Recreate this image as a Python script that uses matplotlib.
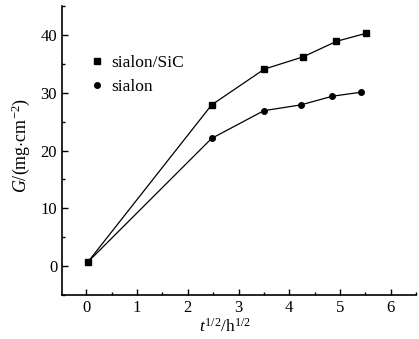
import matplotlib
matplotlib.use('Agg')
import matplotlib.pyplot as plt
from matplotlib.ticker import MultipleLocator

plt.rcParams['font.family'] = 'Liberation Serif'
plt.rcParams['mathtext.fontset'] = 'custom'
plt.rcParams['mathtext.rm'] = 'Liberation Serif'
plt.rcParams['mathtext.it'] = 'Liberation Serif:italic'

# sialon/SiC
x_sic = [0.03, 2.47, 3.51, 4.27, 4.93, 5.52]
y_sic = [0.7, 27.9, 34.1, 36.2, 38.9, 40.3]
# sialon
x_sia = [0.03, 2.47, 3.50, 4.23, 4.85, 5.42]
y_sia = [0.7, 22.1, 26.9, 27.9, 29.4, 30.1]

fig = plt.figure(figsize=(4.19, 3.39), dpi=100)
ax = fig.add_axes([0.148, 0.13, 0.845, 0.852])

ax.plot(x_sic, y_sic, '-s', color='black', lw=0.9, ms=4, label='sialon/SiC')
ax.plot(x_sia, y_sia, '-o', color='black', lw=0.9, ms=4, label='sialon')

ax.set_xlim(-0.48, 6.5)
ax.set_ylim(-5, 45)
ax.xaxis.set_major_locator(MultipleLocator(1))
ax.xaxis.set_minor_locator(MultipleLocator(0.5))
ax.yaxis.set_major_locator(MultipleLocator(10))
ax.yaxis.set_minor_locator(MultipleLocator(5))
ax.tick_params(which='both', direction='in', labelsize=12, width=1)
ax.tick_params(which='major', length=4)
ax.tick_params(which='minor', length=2.5)
ax.spines['top'].set_visible(False)
ax.spines['right'].set_visible(False)
ax.spines['left'].set_linewidth(1.2)
ax.spines['bottom'].set_linewidth(1.2)

ax.set_xlabel(r'$t^{1/2}$/h$^{1/2}$', fontsize=12.5)
ax.set_ylabel(r'$G$/(mg$\cdot$cm$^{-2}$)', fontsize=13)
ax.xaxis.set_label_coords((225 - 62) / 354, -0.078)
ax.yaxis.set_label_coords(-0.084, (295 - 145) / 289)

ax.legend(loc='upper left', bbox_to_anchor=(0.04, 0.886), frameon=False,
          fontsize=12.5, handlelength=0.6, handletextpad=0.5, labelspacing=0.44)
for h in ax.get_legend().legend_handles:
    h.set_linestyle('none')

fig.savefig('out.png', dpi=100)
